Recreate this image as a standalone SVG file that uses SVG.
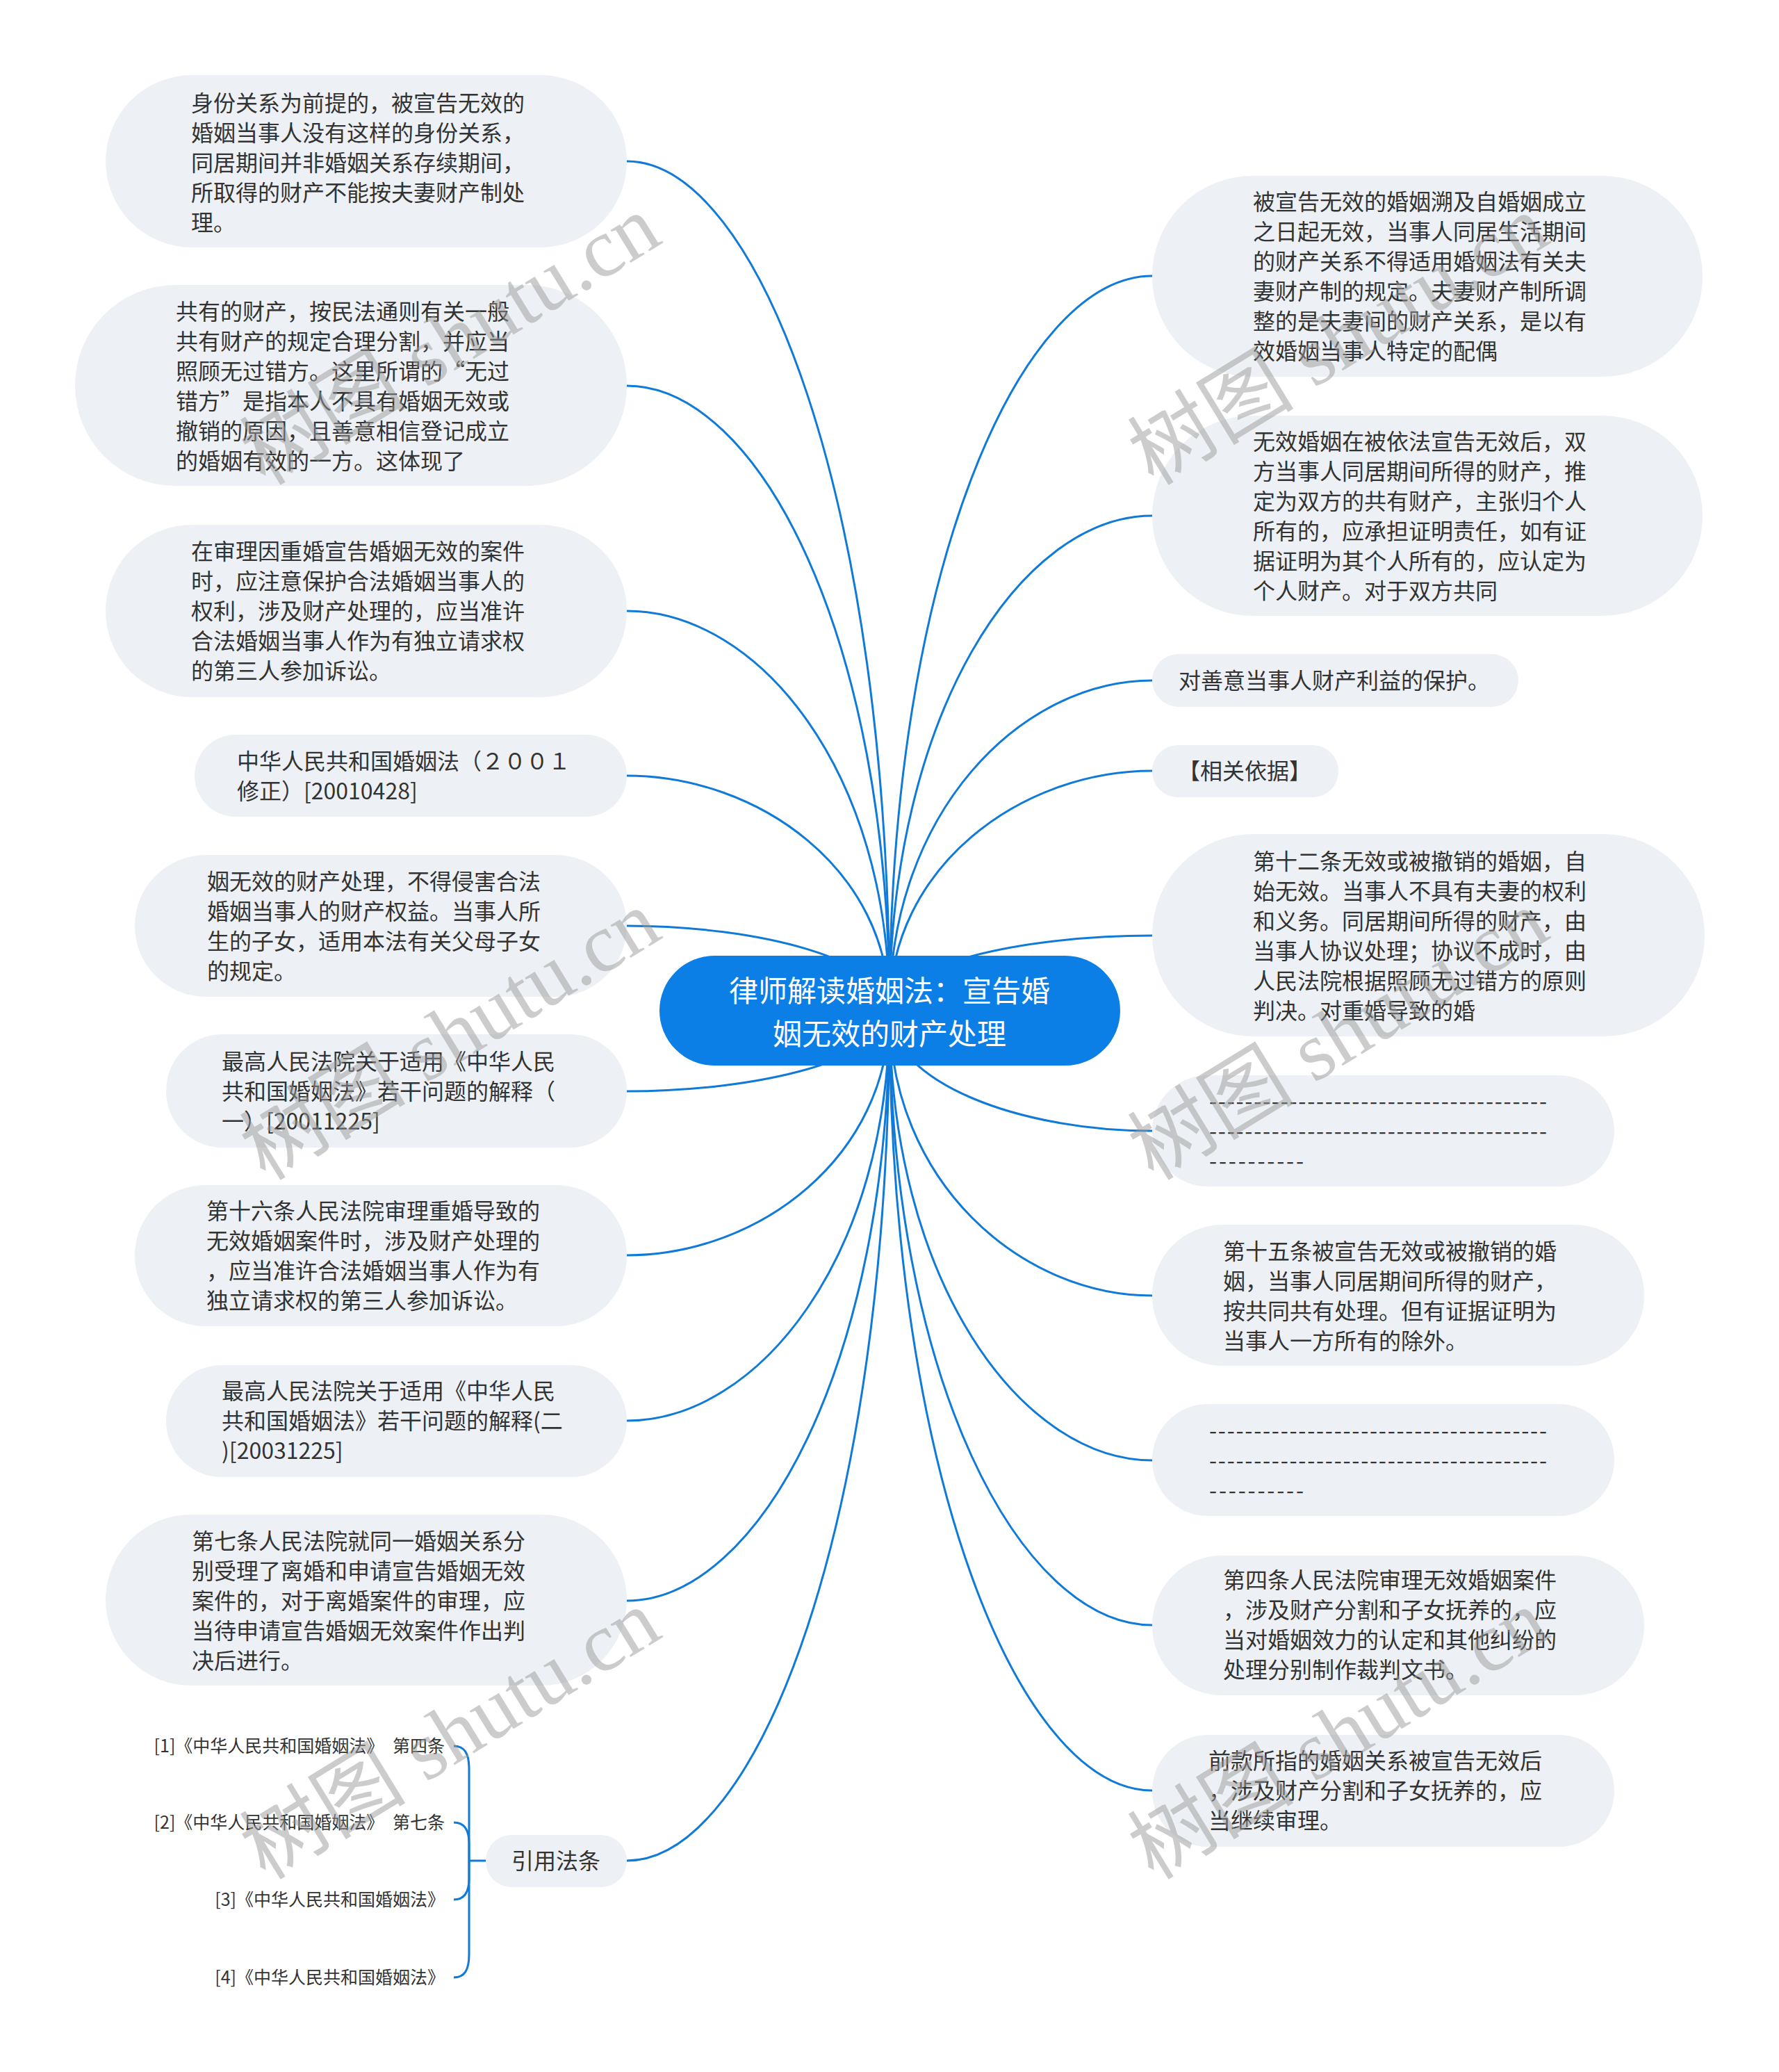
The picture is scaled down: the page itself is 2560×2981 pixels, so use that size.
<svg xmlns="http://www.w3.org/2000/svg" width="2560" height="2981" viewBox="0 0 2560 2981">
<style>
.bg{fill:#ffffff}
.nd{fill:#edf1f5}
.t{font-family:"Noto Sans CJK SC","Noto Sans",sans-serif;font-size:32px;fill:#333333}
.c{font-family:"Noto Sans CJK SC","Noto Sans",sans-serif;font-size:25px;fill:#333333}
.root{fill:#0b7fe6}
.rt{font-family:"Noto Sans CJK SC","Noto Sans",sans-serif;font-size:42px;fill:#ffffff}
.lk{fill:none;stroke:#0f7ad8;stroke-width:3}
.wm{font-family:"Liberation Serif","Noto Sans CJK SC",serif;font-size:120px;fill:#9a9a9a;fill-opacity:0.5}
</style>
<rect class="bg" x="0" y="0" width="2560" height="2981"/>
<g id="connectors">
<path class="lk" d="M902,232 C1091,232 1280,721 1280,1454"/>
<path class="lk" d="M902,555 C1091,555 1280,915 1280,1454"/>
<path class="lk" d="M902,879 C1091,879 1280,1109 1280,1454"/>
<path class="lk" d="M902,1116 C1091,1116 1280,1251 1280,1454"/>
<path class="lk" d="M902,1332 C1091,1332 1280,1381 1280,1454"/>
<path class="lk" d="M902,1570 C1091,1570 1280,1524 1280,1454"/>
<path class="lk" d="M902,1806 C1091,1806 1280,1665 1280,1454"/>
<path class="lk" d="M902,2044 C1091,2044 1280,1808 1280,1454"/>
<path class="lk" d="M902,2303 C1091,2303 1280,1963 1280,1454"/>
<path class="lk" d="M902,2677 C1091,2677 1280,2188 1280,1454"/>
<path class="lk" d="M1658,397 C1469,397 1280,820 1280,1454"/>
<path class="lk" d="M1658,742 C1469,742 1280,1027 1280,1454"/>
<path class="lk" d="M1658,979 C1469,979 1280,1169 1280,1454"/>
<path class="lk" d="M1658,1109 C1469,1109 1280,1247 1280,1454"/>
<path class="lk" d="M1658,1346 C1469,1346 1280,1389 1280,1454"/>
<path class="lk" d="M1658,1627 C1469,1627 1280,1558 1280,1454"/>
<path class="lk" d="M1658,1864 C1469,1864 1280,1700 1280,1454"/>
<path class="lk" d="M1658,2101 C1469,2101 1280,1842 1280,1454"/>
<path class="lk" d="M1658,2338 C1469,2338 1280,1984 1280,1454"/>
<path class="lk" d="M1658,2576 C1469,2576 1280,2127 1280,1454"/>
<path class="lk" d="M699,2677 L675,2677"/>
<path class="lk" d="M653,2512 C668,2512 675,2522 675,2545 L675,2677"/>
<path class="lk" d="M653,2622 C668,2622 675,2632 675,2652 L675,2677"/>
<path class="lk" d="M653,2733 C668,2733 675,2723 675,2703 L675,2677"/>
<path class="lk" d="M653,2845 C668,2845 675,2835 675,2812 L675,2677"/>
</g>
<g id="root">
<rect class="root" x="949" y="1375" width="663" height="158" rx="79"/>
<text class="rt" x="1280" y="1441" text-anchor="middle">律师解读婚姻法：宣告婚</text>
<text class="rt" x="1280" y="1503" text-anchor="middle">姻无效的财产处理</text>
</g>
<g id="L1">
<rect class="nd" x="152" y="108" width="750" height="248" rx="124"/>
<text class="t"><tspan x="275" y="160">身份关系为前提的，被宣告无效的</tspan><tspan x="275" y="203">婚姻当事人没有这样的身份关系，</tspan><tspan x="275" y="246">同居期间并非婚姻关系存续期间，</tspan><tspan x="275" y="289">所取得的财产不能按夫妻财产制处</tspan><tspan x="275" y="332">理。</tspan></text>
</g>
<g id="L2">
<rect class="nd" x="108" y="410" width="794" height="289" rx="144"/>
<text class="t"><tspan x="253" y="460">共有的财产，按民法通则有关一般</tspan><tspan x="253" y="503">共有财产的规定合理分割，并应当</tspan><tspan x="253" y="546">照顾无过错方。这里所谓的“无过</tspan><tspan x="253" y="589">错方”是指本人不具有婚姻无效或</tspan><tspan x="253" y="632">撤销的原因，且善意相信登记成立</tspan><tspan x="253" y="675">的婚姻有效的一方。这体现了</tspan></text>
</g>
<g id="L3">
<rect class="nd" x="152" y="755" width="750" height="248" rx="124"/>
<text class="t"><tspan x="275" y="805">在审理因重婚宣告婚姻无效的案件</tspan><tspan x="275" y="848">时，应注意保护合法婚姻当事人的</tspan><tspan x="275" y="891">权利，涉及财产处理的，应当准许</tspan><tspan x="275" y="934">合法婚姻当事人作为有独立请求权</tspan><tspan x="275" y="977">的第三人参加诉讼。</tspan></text>
</g>
<g id="L4">
<rect class="nd" x="280" y="1057" width="622" height="118" rx="59"/>
<text class="t"><tspan x="341" y="1107">中华人民共和国婚姻法（２００１</tspan><tspan x="341" y="1150">修正）[20010428]</tspan></text>
</g>
<g id="L5">
<rect class="nd" x="194" y="1230" width="708" height="204" rx="102"/>
<text class="t"><tspan x="298" y="1280">姻无效的财产处理，不得侵害合法</tspan><tspan x="298" y="1323">婚姻当事人的财产权益。当事人所</tspan><tspan x="298" y="1366">生的子女，适用本法有关父母子女</tspan><tspan x="298" y="1409">的规定。</tspan></text>
</g>
<g id="L6">
<rect class="nd" x="239" y="1488" width="663" height="163" rx="81"/>
<text class="t"><tspan x="319" y="1539">最高人民法院关于适用《中华人民</tspan><tspan x="319" y="1582">共和国婚姻法》若干问题的解释（</tspan><tspan x="319" y="1625">一）[20011225]</tspan></text>
</g>
<g id="L7">
<rect class="nd" x="194" y="1705" width="708" height="203" rx="101"/>
<text class="t"><tspan x="297" y="1754">第十六条人民法院审理重婚导致的</tspan><tspan x="297" y="1797">无效婚姻案件时，涉及财产处理的</tspan><tspan x="297" y="1840">，应当准许合法婚姻当事人作为有</tspan><tspan x="297" y="1883">独立请求权的第三人参加诉讼。</tspan></text>
</g>
<g id="L8">
<rect class="nd" x="239" y="1964" width="663" height="161" rx="80"/>
<text class="t"><tspan x="319" y="2013">最高人民法院关于适用《中华人民</tspan><tspan x="319" y="2056">共和国婚姻法》若干问题的解释(二</tspan><tspan x="319" y="2099">)[20031225]</tspan></text>
</g>
<g id="L9">
<rect class="nd" x="152" y="2179" width="750" height="246" rx="123"/>
<text class="t"><tspan x="276" y="2229">第七条人民法院就同一婚姻关系分</tspan><tspan x="276" y="2272">别受理了离婚和申请宣告婚姻无效</tspan><tspan x="276" y="2315">案件的，对于离婚案件的审理，应</tspan><tspan x="276" y="2358">当待申请宣告婚姻无效案件作出判</tspan><tspan x="276" y="2401">决后进行。</tspan></text>
</g>
<g id="cite">
<rect class="nd" x="699" y="2640" width="203" height="75" rx="37"/>
<text class="t" x="736" y="2689">引用法条</text>
</g>
<g id="cite1"><text class="c" x="640" y="2521" text-anchor="end">[1]《中华人民共和国婚姻法》 <tspan dx="7">第四条</tspan></text></g>
<g id="cite2"><text class="c" x="640" y="2631" text-anchor="end">[2]《中华人民共和国婚姻法》 <tspan dx="7">第七条</tspan></text></g>
<g id="cite3"><text class="c" x="640" y="2742" text-anchor="end">[3]《中华人民共和国婚姻法》</text></g>
<g id="cite4"><text class="c" x="640" y="2854" text-anchor="end">[4]《中华人民共和国婚姻法》</text></g>
<g id="R1">
<rect class="nd" x="1658" y="253" width="792" height="289" rx="144"/>
<text class="t"><tspan x="1803" y="302">被宣告无效的婚姻溯及自婚姻成立</tspan><tspan x="1803" y="345">之日起无效，当事人同居生活期间</tspan><tspan x="1803" y="388">的财产关系不得适用婚姻法有关夫</tspan><tspan x="1803" y="431">妻财产制的规定。夫妻财产制所调</tspan><tspan x="1803" y="474">整的是夫妻间的财产关系，是以有</tspan><tspan x="1803" y="517">效婚姻当事人特定的配偶</tspan></text>
</g>
<g id="R2">
<rect class="nd" x="1658" y="598" width="792" height="288" rx="144"/>
<text class="t"><tspan x="1803" y="647">无效婚姻在被依法宣告无效后，双</tspan><tspan x="1803" y="690">方当事人同居期间所得的财产，推</tspan><tspan x="1803" y="733">定为双方的共有财产，主张归个人</tspan><tspan x="1803" y="776">所有的，应承担证明责任，如有证</tspan><tspan x="1803" y="819">据证明为其个人所有的，应认定为</tspan><tspan x="1803" y="862">个人财产。对于双方共同</tspan></text>
</g>
<g id="R3">
<rect class="nd" x="1658" y="941" width="527" height="76" rx="38"/>
<text class="t" x="1696" y="991">对善意当事人财产利益的保护。</text>
</g>
<g id="R4">
<rect class="nd" x="1658" y="1072" width="268" height="75" rx="37"/>
<text class="t" x="1695" y="1121">【相关依据】</text>
</g>
<g id="R5">
<rect class="nd" x="1658" y="1200" width="795" height="291" rx="145"/>
<text class="t"><tspan x="1803" y="1251">第十二条无效或被撤销的婚姻，自</tspan><tspan x="1803" y="1294">始无效。当事人不具有夫妻的权利</tspan><tspan x="1803" y="1337">和义务。同居期间所得的财产，由</tspan><tspan x="1803" y="1380">当事人协议处理；协议不成时，由</tspan><tspan x="1803" y="1423">人民法院根据照顾无过错方的原则</tspan><tspan x="1803" y="1466">判决。对重婚导致的婚</tspan></text>
</g>
<g id="R6">
<rect class="nd" x="1658" y="1547" width="665" height="160" rx="80"/>
<text class="t"><tspan x="1740" y="1596" textLength="486" lengthAdjust="spacing">--------------------------------------</tspan><tspan x="1740" y="1639" textLength="486" lengthAdjust="spacing">--------------------------------------</tspan><tspan x="1740" y="1682" textLength="136" lengthAdjust="spacing">----------</tspan></text>
</g>
<g id="R7">
<rect class="nd" x="1658" y="1762" width="708" height="203" rx="101"/>
<text class="t"><tspan x="1760" y="1812">第十五条被宣告无效或被撤销的婚</tspan><tspan x="1760" y="1855">姻，当事人同居期间所得的财产，</tspan><tspan x="1760" y="1898">按共同共有处理。但有证据证明为</tspan><tspan x="1760" y="1941">当事人一方所有的除外。</tspan></text>
</g>
<g id="R8">
<rect class="nd" x="1658" y="2020" width="665" height="161" rx="80"/>
<text class="t"><tspan x="1740" y="2070" textLength="486" lengthAdjust="spacing">--------------------------------------</tspan><tspan x="1740" y="2113" textLength="486" lengthAdjust="spacing">--------------------------------------</tspan><tspan x="1740" y="2156" textLength="136" lengthAdjust="spacing">----------</tspan></text>
</g>
<g id="R9">
<rect class="nd" x="1658" y="2238" width="708" height="201" rx="100"/>
<text class="t"><tspan x="1760" y="2285">第四条人民法院审理无效婚姻案件</tspan><tspan x="1760" y="2328">，涉及财产分割和子女抚养的，应</tspan><tspan x="1760" y="2371">当对婚姻效力的认定和其他纠纷的</tspan><tspan x="1760" y="2414">处理分别制作裁判文书。</tspan></text>
</g>
<g id="R10">
<rect class="nd" x="1658" y="2496" width="665" height="161" rx="80"/>
<text class="t"><tspan x="1739" y="2545">前款所指的婚姻关系被宣告无效后</tspan><tspan x="1739" y="2588">，涉及财产分割和子女抚养的，应</tspan><tspan x="1739" y="2631">当继续审理。</tspan></text>
</g>
<g id="watermark">
<text class="wm" transform="translate(382,700) rotate(-31.5)">树图 shutu.cn</text>
<text class="wm" transform="translate(1660,700) rotate(-31.5)">树图 shutu.cn</text>
<text class="wm" transform="translate(382,1700) rotate(-31.5)">树图 shutu.cn</text>
<text class="wm" transform="translate(1660,1700) rotate(-31.5)">树图 shutu.cn</text>
<text class="wm" transform="translate(382,2706) rotate(-31.5)">树图 shutu.cn</text>
<text class="wm" transform="translate(1660,2706) rotate(-31.5)">树图 shutu.cn</text>
</g>
</svg>
